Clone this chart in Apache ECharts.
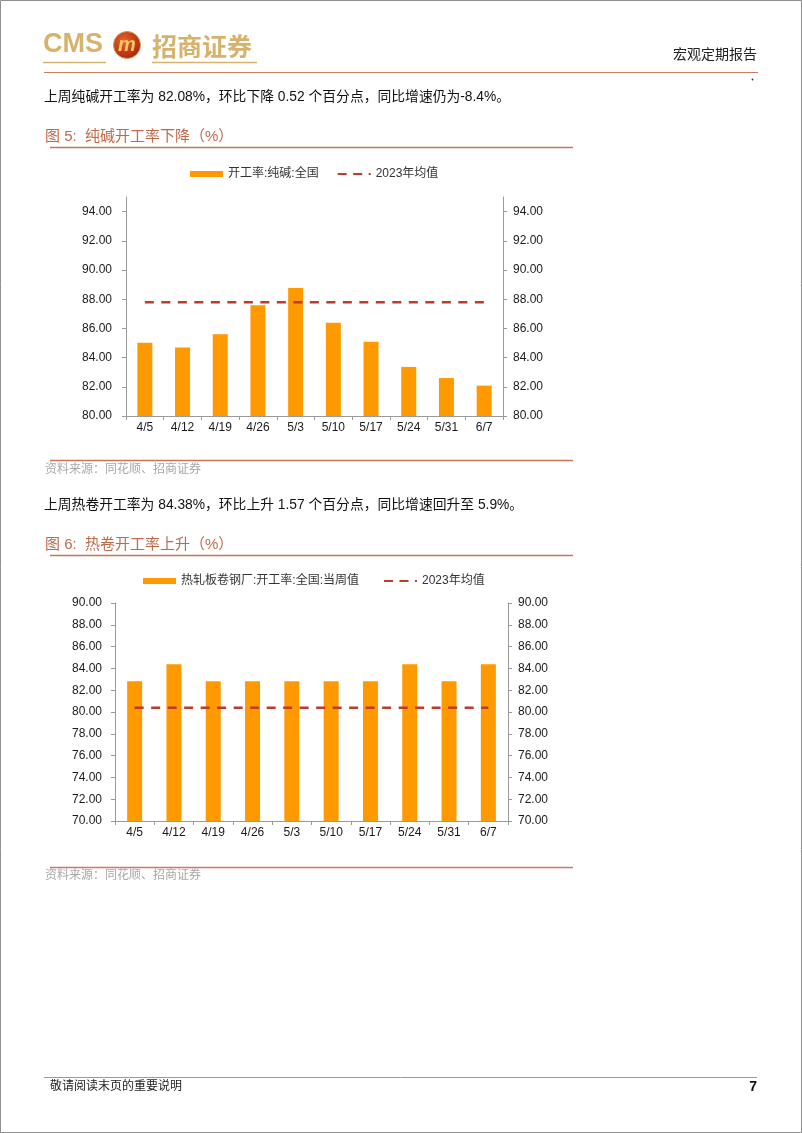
<!DOCTYPE html>
<html>
<head>
<meta charset="utf-8">
<script src="https://cdn.jsdelivr.net/npm/echarts@6/dist/echarts.min.js"></script>
<style>
html,body{margin:0;padding:0;background:#fff;}
#main{width:802px;height:1133px;}
</style>
</head>
<body>
<div id="main"></div>
<script>
// ---- data ----
const categories = ['4/5','4/12','4/19','4/26','5/3','5/10','5/17','5/24','5/31','6/7'];
const sodaRate = [85.02, 84.70, 85.60, 87.58, 88.77, 86.39, 85.09, 83.36, 82.60, 82.08];
const sodaAvg2023 = 87.79;
const hrcRate = [82.81, 84.38, 82.81, 82.81, 82.81, 82.81, 82.81, 84.38, 82.81, 84.38];
const hrcAvg2023 = 80.40;
const sodaTicks = [80, 82, 84, 86, 88, 90, 92, 94];
const hrcTicks = [70, 72, 74, 76, 78, 80, 82, 84, 86, 88, 90];
const sodaName = '开工率:纯碱:全国';
const hrcName = '热轧板卷钢厂:开工率:全国:当周值';
const avgName = '2023年均值';

const FONT = "'Liberation Sans', 'Noto Sans CJK SC', sans-serif";
const BAR = '#FF9900';
const DASH = '#C0392F';
const AXIS = '#9a9a9a';

const chart = echarts.init(document.getElementById('main'), null, {renderer: 'canvas'});

function yAxis(idx, pos, ticks, min, max, margin) {
  return {
    type: 'value', gridIndex: idx, position: pos, min: min, max: max, interval: 2,
    splitLine: {show: false},
    axisLine: {show: true, lineStyle: {color: AXIS, width: 1}},
    axisTick: {show: true, length: 4, lineStyle: {color: AXIS}, customValues: ticks},
    axisLabel: {color: '#1a1a1a', fontSize: 12, fontFamily: FONT, margin: margin,
      customValues: ticks, formatter: v => v.toFixed(2)}
  };
}
function xAxis(idx, margin) {
  return {
    type: 'category', gridIndex: idx, data: categories, boundaryGap: true,
    axisLine: {show: true, lineStyle: {color: AXIS, width: 1}},
    axisTick: {show: true, length: 4, lineStyle: {color: AXIS}},
    axisLabel: {color: '#1a1a1a', fontSize: 12, fontFamily: FONT, margin: margin, interval: 0}
  };
}

function txt(x, y, s, size, color, extra) {
  return {type: 'text', x: x, y: y, style: Object.assign({
    text: s, font: size + 'px ' + FONT, fill: color, textVerticalAlign: 'middle'}, extra || {})};
}
function hline(x1, x2, y, color, w) {
  return {type: 'line', shape: {x1: x1, y1: y, x2: x2, y2: y}, style: {stroke: color, lineWidth: w || 1}};
}

const GOLD = '#D6B36C';
const REDLINE = '#CF7A68';
const HEAD = '#BE6A48';

const graphics = [
  {type: 'rect', shape: {x: 0.5, y: 0.5, width: 801, height: 1132}, style: {fill: 'none', stroke: '#8f8f8f', lineWidth: 1}},
  // logo
  {type: 'text', x: 43, y: 45, style: {text: 'CMS', font: 'bold 27px ' + FONT, fill: GOLD, textVerticalAlign: 'middle'}},
  hline(43, 106, 62.5, GOLD, 1.5),
  {type: 'circle', shape: {cx: 127, cy: 45, r: 13.5}, style: {
    fill: new echarts.graphic.RadialGradient(0.4, 0.35, 0.7, [{offset: 0, color: '#E8642A'}, {offset: 1, color: '#A8200F'}]),
    stroke: '#C9A04A', lineWidth: 1}},
  {type: 'text', x: 127, y: 45, style: {text: 'm', font: 'italic bold 20px ' + FONT, fill: '#F2C764', textAlign: 'center', textVerticalAlign: 'middle'}},
  {type: 'text', x: 152, y: 46, style: {text: '招商证券', font: 'bold 25px "Noto Sans CJK SC"', fill: GOLD, textVerticalAlign: 'middle'}},
  hline(152, 257, 62.5, GOLD, 1.5),
  txt(757, 55, '宏观定期报告', 14, '#222', {textAlign: 'right'}),
  hline(44, 758, 72.5, REDLINE, 1.2),
  {type: 'circle', shape: {cx: 752.5, cy: 79.5, r: 0.9}, style: {fill: '#333'}},
  // paragraph 1
  txt(44, 97, '上周纯碱开工率为 82.08%，环比下降 0.52 个百分点，同比增速仍为-8.4%。', 13.8, '#111'),
  txt(45, 137, '图 5:  纯碱开工率下降（%）', 15, HEAD),
  hline(50, 573, 147.5, '#C7765A', 1.5),
  hline(50, 573, 460.5, '#C7765A', 1.5),
  txt(45, 470, '资料来源：同花顺、招商证券', 12, '#a8a8a8'),
  // paragraph 2
  txt(44, 505, '上周热卷开工率为 84.38%，环比上升 1.57 个百分点，同比增速回升至 5.9%。', 13.8, '#111'),
  txt(45, 545, '图 6:  热卷开工率上升（%）', 15, HEAD),
  hline(50, 573, 555.5, '#C7765A', 1.5),
  hline(50, 573, 867.5, '#D9735F', 1.5),
  txt(45, 876, '资料来源：同花顺、招商证券', 12, '#a8a8a8'),
  // footer
  hline(44, 757, 1077.5, '#9a9a9a', 1),
  txt(50, 1087, '敬请阅读末页的重要说明', 12, '#222'),
  {type: 'text', x: 757, y: 1087, style: {text: '7', font: 'bold 14px ' + FONT, fill: '#111', textAlign: 'right', textVerticalAlign: 'middle'}}
];

const avgLegendItem = {name: avgName, itemStyle: {opacity: 0}, lineStyle: {type: [9, 6.5]}};

const option = {
  animation: false,
  backgroundColor: '#fff',
  textStyle: {fontFamily: FONT},
  grid: [
    {left: 126, top: 197, width: 377, height: 219},
    {left: 115, top: 603, width: 393, height: 218}
  ],
  xAxis: [xAxis(0, 6), xAxis(1, 6)],
  yAxis: [
    yAxis(0, 'left', sodaTicks, 80, 95, 14),
    yAxis(0, 'right', sodaTicks, 80, 95, 10),
    yAxis(1, 'left', hrcTicks, 70, 90, 13),
    yAxis(1, 'right', hrcTicks, 70, 90, 10)
  ],
  legend: [
    {left: 190, top: 168, padding: 0, itemGap: 18, itemWidth: 33, itemHeight: 6,
      data: [{name: sodaName, icon: 'rect'}, avgLegendItem],
      textStyle: {fontSize: 12, color: '#333', fontFamily: FONT}, selectedMode: false},
    {left: 143, top: 575, padding: 0, itemGap: 24, itemWidth: 33, itemHeight: 6,
      data: [{name: hrcName, icon: 'rect'}, avgLegendItem],
      textStyle: {fontSize: 12, color: '#333', fontFamily: FONT}, selectedMode: false}
  ],
  series: [
    {name: sodaName, type: 'bar', xAxisIndex: 0, yAxisIndex: 0, data: sodaRate, barWidth: 15, itemStyle: {color: BAR}},
    {name: avgName, type: 'line', xAxisIndex: 0, yAxisIndex: 0, data: categories.map(() => sodaAvg2023),
      symbol: 'none', lineStyle: {color: DASH, width: 2.5, type: [9, 7.5]}, itemStyle: {color: DASH}, z: 3},
    {name: hrcName, type: 'bar', xAxisIndex: 1, yAxisIndex: 2, data: hrcRate, barWidth: 15, itemStyle: {color: BAR}},
    {name: avgName, type: 'line', xAxisIndex: 1, yAxisIndex: 2, data: categories.map(() => hrcAvg2023),
      symbol: 'none', lineStyle: {color: DASH, width: 2.5, type: [9, 7.5]}, itemStyle: {color: DASH}, z: 3}
  ],
  graphic: graphics
};
chart.setOption(option);
</script>
</body>
</html>
